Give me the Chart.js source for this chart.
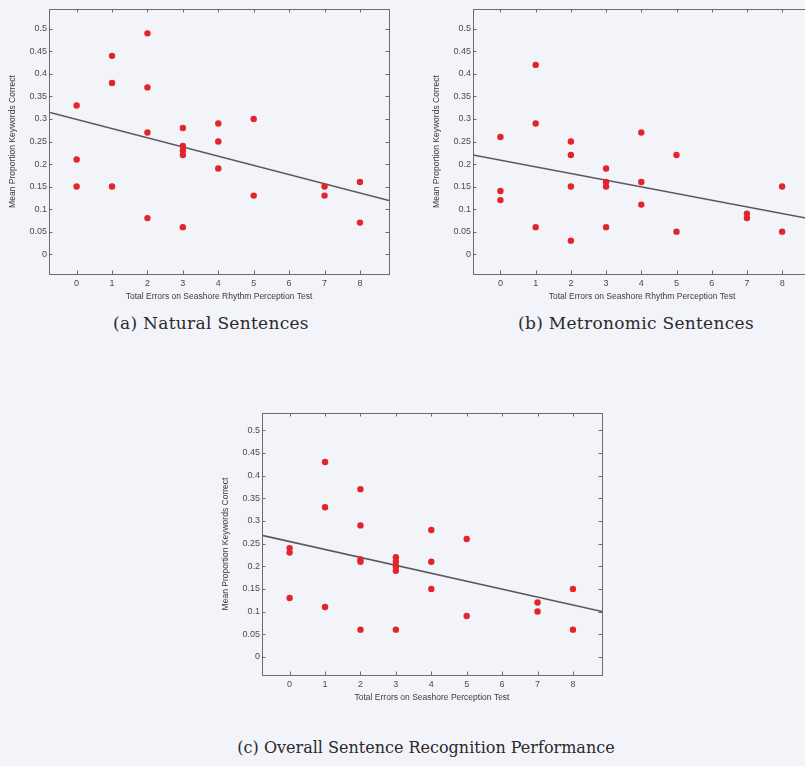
<!DOCTYPE html>
<html>
<head>
<meta charset="utf-8">
<script src="https://cdn.jsdelivr.net/npm/chart.js@4.4.0/dist/chart.umd.min.js"></script>
<style>
  body { margin: 0; width: 805px; height: 766px; overflow: hidden; background: #f3f3fa; position: relative; }
  .panel { position: absolute; }
  .cap { position: absolute; font-family: "DejaVu Serif", serif; font-size: 17px; letter-spacing: 0.3px; color: #2a2a2a; white-space: nowrap; transform: translate(-50%, -50%); }
  .cap.wide { font-size: 16px; letter-spacing: 0; }
</style>
</head>
<body>
<div class="panel" style="left:0;top:0;width:400px;height:305px"><canvas id="natural"></canvas></div>
<div class="panel" style="left:424px;top:0;width:400px;height:305px"><canvas id="metronomic"></canvas></div>
<div class="panel" style="left:213px;top:404px;width:400px;height:302px"><canvas id="overall"></canvas></div>
<div class="cap" style="left:211px;top:323px">(a) Natural Sentences</div>
<div class="cap" style="left:636px;top:323px">(b) Metronomic Sentences</div>
<div class="cap wide" style="left:426px;top:747px">(c) Overall Sentence Recognition Performance</div>
<script>
const xTicks = [0, 1, 2, 3, 4, 5, 6, 7, 8];
const yTicks = [0, 0.05, 0.1, 0.15, 0.2, 0.25, 0.3, 0.35, 0.4, 0.45, 0.5];

// errors on the rhythm test, one entry per listener
const naturalErrors = [0, 0, 0, 1, 1, 1, 2, 2, 2, 2, 3, 3, 3, 3, 3, 4, 4, 4, 5, 5, 7, 7, 8, 8];
const naturalScores = [0.33, 0.21, 0.15, 0.44, 0.38, 0.15, 0.49, 0.37, 0.27, 0.08, 0.28, 0.24, 0.23, 0.22, 0.06, 0.29, 0.25, 0.19, 0.30, 0.13, 0.15, 0.13, 0.16, 0.07];

const metronomicErrors = [0, 0, 0, 1, 1, 1, 2, 2, 2, 2, 3, 3, 3, 3, 4, 4, 4, 5, 5, 7, 7, 8, 8];
const metronomicScores = [0.26, 0.14, 0.12, 0.42, 0.29, 0.06, 0.25, 0.22, 0.15, 0.03, 0.19, 0.16, 0.15, 0.06, 0.27, 0.16, 0.11, 0.22, 0.05, 0.09, 0.08, 0.15, 0.05];

const overallErrors = [0, 0, 0, 1, 1, 1, 2, 2, 2, 2, 2, 3, 3, 3, 3, 3, 4, 4, 4, 5, 5, 7, 7, 8, 8];
const overallScores = [0.24, 0.23, 0.13, 0.43, 0.33, 0.11, 0.37, 0.29, 0.215, 0.21, 0.06, 0.22, 0.21, 0.20, 0.19, 0.06, 0.28, 0.21, 0.15, 0.26, 0.09, 0.12, 0.10, 0.15, 0.06];

// least-squares lines, end points at the axis limits
const fitX = [-0.78, 8.82];
const naturalFit = [0.315, 0.119];
const metronomicFit = [0.220, 0.078];
const overallFit = [0.268, 0.100];

const xTitleRhythm = "Total Errors on Seashore Rhythm Perception Test";
const xTitleOverall = "Total Errors on Seashore Perception Test";
const yTitle = "Mean Proportion Keywords Correct";

const axisFont = { family: "Liberation Sans, Arial, sans-serif", size: 9 };

// matlab style box with inward ticks on every side
const boxAxes = {
  id: "boxAxes",
  afterDatasetsDraw(chart) {
    const { ctx, chartArea: a, scales } = chart;
    const len = 3.5;
    ctx.save();
    ctx.strokeStyle = "#6a6a70";
    ctx.lineWidth = 1;
    ctx.strokeRect(a.left + 0.5, a.top + 0.5, a.right - a.left, a.bottom - a.top);
    ctx.beginPath();
    xTicks.forEach(v => {
      const px = Math.round(scales.x.getPixelForValue(v)) + 0.5;
      ctx.moveTo(px, a.bottom); ctx.lineTo(px, a.bottom - len);
      ctx.moveTo(px, a.top); ctx.lineTo(px, a.top + len);
    });
    yTicks.forEach(v => {
      const py = Math.round(scales.y.getPixelForValue(v)) + 0.5;
      ctx.moveTo(a.left, py); ctx.lineTo(a.left + len, py);
      ctx.moveTo(a.right, py); ctx.lineTo(a.right - len, py);
    });
    ctx.stroke();
    ctx.restore();
  }
};

function makeChart(id, errors, scores, fit, xTitle, yMin, yMax, padRight) {
  const points = errors.map((e, i) => ({ x: e, y: scores[i] }));
  const line = fitX.map((x, i) => ({ x: x, y: fit[i] }));
  return new Chart(document.getElementById(id), {
    type: "scatter",
    data: {
      datasets: [
        {
          data: line,
          showLine: true,
          borderColor: "#58585e",
          borderWidth: 1.6,
          pointRadius: 0,
          order: 2,
        },
        {
          data: points,
          backgroundColor: "#e3252b",
          borderWidth: 0,
          pointRadius: 3.2,
          order: 1,
        },
      ],
    },
    options: {
      responsive: true,
      maintainAspectRatio: false,
      animation: false,
      layout: { autoPadding: false, padding: { top: 9, right: padRight, left: 0, bottom: 0 } },
      plugins: { legend: { display: false }, tooltip: { enabled: false } },
      scales: {
        x: {
          type: "linear",
          min: fitX[0],
          max: fitX[1],
          afterBuildTicks: s => { s.ticks = xTicks.map(v => ({ value: v })); },
          afterFit: s => { s.height = 31; },
          grid: { display: false, drawTicks: false },
          border: { display: false },
          ticks: { color: "#4a4a50", font: axisFont, padding: 4, maxRotation: 0, autoSkip: false },
          title: { display: true, text: xTitle, color: "#3a3a40", font: { family: axisFont.family, size: 8.5 }, padding: { top: 0, bottom: 3 } },
        },
        y: {
          min: yMin,
          max: yMax,
          afterBuildTicks: s => { s.ticks = yTicks.map(v => ({ value: v })); },
          afterFit: s => { s.width = 49; },
          grid: { display: false, drawTicks: false },
          border: { display: false },
          ticks: { color: "#4a4a50", font: axisFont, padding: 2, autoSkip: false, callback: v => String(+v.toFixed(2)) },
          title: { display: true, text: yTitle, color: "#3a3a40", font: { family: axisFont.family, size: 8.5 }, padding: { top: 8, bottom: 0 } },
        },
      },
    },
    plugins: [boxAxes],
  });
}

makeChart("natural", naturalErrors, naturalScores, naturalFit, xTitleRhythm, -0.044, 0.544, 11);
makeChart("metronomic", metronomicErrors, metronomicScores, metronomicFit, xTitleRhythm, -0.044, 0.544, 13);
makeChart("overall", overallErrors, overallScores, overallFit, xTitleOverall, -0.040, 0.538, 11);
</script>
</body>
</html>
